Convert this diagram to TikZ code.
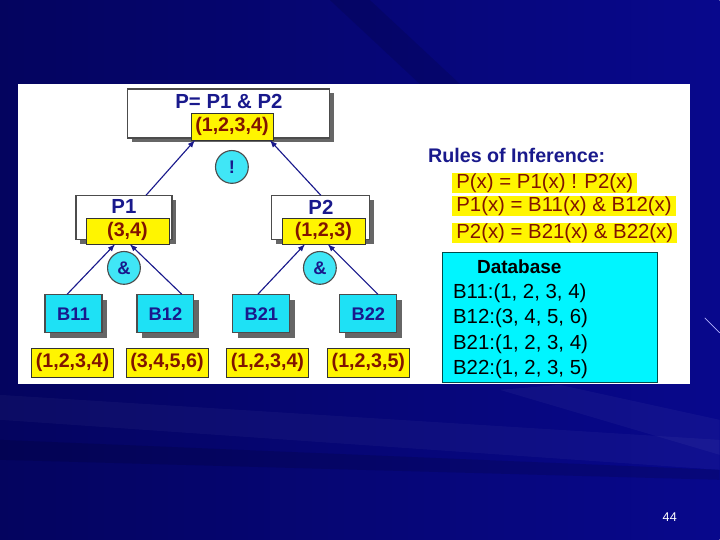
\documentclass[tikz,border=0pt]{standalone}
\usepackage{fontspec}
\setmainfont{Liberation Sans}
\usetikzlibrary{shadows}

\definecolor{slideblue}{RGB}{8,8,140}
\definecolor{slidedark}{RGB}{4,4,95}
\definecolor{navytext}{RGB}{25,25,140}
\definecolor{boxyellow}{RGB}{255,245,0}
\definecolor{valred}{RGB}{128,20,0}
\definecolor{boxcyan}{RGB}{30,225,245}
\definecolor{dbcyan}{RGB}{0,245,255}

\begin{document}
\begin{tikzpicture}[x=0.025cm,y=-0.025cm,
goal/.style={
	% The shape:
	rectangle,
	% The border and filling:
	draw=black!70,fill=white,thick,
	% a gray copy behind it
	drop shadow={shadow xshift=0.1cm,shadow yshift=-0.1cm,fill=black!60,opacity=1},
	inner sep=0pt},
fact/.style={
	% The shape:
	rectangle,minimum width=1.425cm,minimum height=0.95cm,
	% The rest
	draw=black!70,thick,fill=boxcyan,
	drop shadow={shadow xshift=0.12cm,shadow yshift=-0.12cm,fill=black!60,opacity=1},
	font=\fontsize{13}{15}\selectfont\bfseries,text=navytext},
value/.style={
	% The shape:
	rectangle,minimum height=0.675cm,minimum width=2.05cm,inner sep=1pt,
	% The rest
	draw=black!80,fill=boxyellow,
	font=\fontsize{14}{16}\selectfont\bfseries,text=valred},
oper/.style={
	circle,minimum size=0.82cm,inner sep=0pt,
	draw=black!70,thick,fill=boxcyan!85!white,
	font=\fontsize{13}{15}\selectfont\bfseries,text=navytext},
rule/.style={
	rectangle,anchor=west,fill=boxyellow,inner xsep=3pt,
	minimum height=0.52cm,inner ysep=0pt,
	font=\fontsize{14.5}{16}\selectfont,text=valred},
dbline/.style={anchor=west,inner sep=0pt,font=\fontsize{14.5}{16}\selectfont},
every edge/.style={draw=navytext,thick,-latex}]

% slide background
\shade[left color=slidedark,right color=slideblue] (0,0) rectangle (720,540);
\fill[white,opacity=0.035] (0,395) -- (720,440) -- (720,470) -- (0,420) -- cycle;
\fill[white,opacity=0.04] (500,390) -- (720,455) -- (720,420) -- (560,385) -- cycle;
\fill[black,opacity=0.12] (0,440) -- (720,470) -- (720,480) -- (0,460) -- cycle;
\fill[black,opacity=0.12] (330,0) -- (370,0) -- (460,84) -- (420,84) -- cycle;
\draw[blue!30!white,thin] (705,318) -- (720,333);
\useasboundingbox (0,0) rectangle (720,540);
\fill[white] (18,84) rectangle (690,384);

%Begin the tree
\node (P) [goal,minimum width=5.05cm,minimum height=1.225cm] at (229,113.5) {};
\node [font=\fontsize{14.5}{16}\selectfont\bfseries,text=navytext] (Ptext) at (229,102) {P= P1 \& P2};
\node (v1234) [value] at (232,126.5) {(1,2,3,4)};
\node (or) [oper] at (232,167) {!};

\node (P1) [goal,minimum width=2.4cm,minimum height=1.1cm] at (124,218) {};
\node [font=\fontsize{14.5}{16}\selectfont\bfseries,text=navytext] (P1text) at (124,207) {P1};
\node (v34) [value,minimum width=2.075cm,minimum height=0.65cm] at (127.5,231) {(3,4)};
\node (and1) [oper] at (124,268) {\&};

\node (P2) [goal,minimum width=2.45cm,minimum height=1.1cm] at (321,218) {};
\node [font=\fontsize{14.5}{16}\selectfont\bfseries,text=navytext] (P2text) at (321,207) {P2};
\node (v123) [value,minimum width=2.075cm,minimum height=0.65cm] at (323.5,231) {(1,2,3)};
\node (and2) [oper] at (320,268) {\&};

% the facts
\node (B11) [fact] at (73.5,314) {B11};
\node (B12) [fact] at (165.5,314) {B12};
\node (B21) [fact] at (261.5,314) {B21};
\node (B22) [fact] at (368.5,314) {B22};
\node (vB11) [value,minimum height=0.725cm] at (72.5,362.5) {(1,2,3,4)};
\node (vB12) [value,minimum height=0.725cm] at (167,362.5) {(3,4,5,6)};
\node (vB21) [value,minimum height=0.725cm] at (267.5,362.5) {(1,2,3,4)};
\node (vB22) [value,minimum height=0.725cm] at (368.5,362.5) {(1,2,3,5)};
%End the tree

% Now come the arrows...
\path ([xshift=0.55cm]P1.north) edge ([xshift=-0.925cm]v1234.south)
      (P2.north) edge ([xshift=0.95cm]v1234.south)
      ([xshift=-0.16cm]B11.north) edge ([xshift=-0.31cm]v34.south)
      ([xshift=0.41cm]B12.north) edge ([xshift=0.06cm]v34.south)
      ([xshift=-0.09cm]B21.north) edge ([xshift=-0.46cm]v123.south)
      ([xshift=0.24cm]B22.north) edge ([xshift=0.11cm]v123.south);

% rules and database
\node (rules) [anchor=west,inner sep=0pt,font=\fontsize{14}{16}\selectfont\bfseries,text=navytext] at (428,156) {Rules of Inference:};
\node (r1) [rule] at (452,183) {P(x) = P1(x) ! P2(x)};
\node (r2) [rule] at (452,206) {P1(x) = B11(x) \& B12(x)};
\node (r3) [rule] at (452,233) {P2(x) = B21(x) \& B22(x)};

\node (db) [rectangle,draw=teal!60!black,thick,fill=dbcyan,minimum width=5.375cm,minimum height=3.25cm] at (550.5,318) {};
\node (dbtitle) [font=\fontsize{13.5}{16}\selectfont\bfseries] at (519.5,267) {Database};
\node (d1) [dbline] at (453,293) {B11:(1, 2, 3, 4)};
\node (d2) [dbline] at (453,318) {B12:(3, 4, 5, 6)};
\node (d3) [dbline] at (453,344) {B21:(1, 2, 3, 4)};
\node (d4) [dbline] at (453,369) {B22:(1, 2, 3, 5)};

\node (page) [text=white,font=\fontsize{9}{10}\selectfont] at (670,517) {44};
\end{tikzpicture}
\end{document}
